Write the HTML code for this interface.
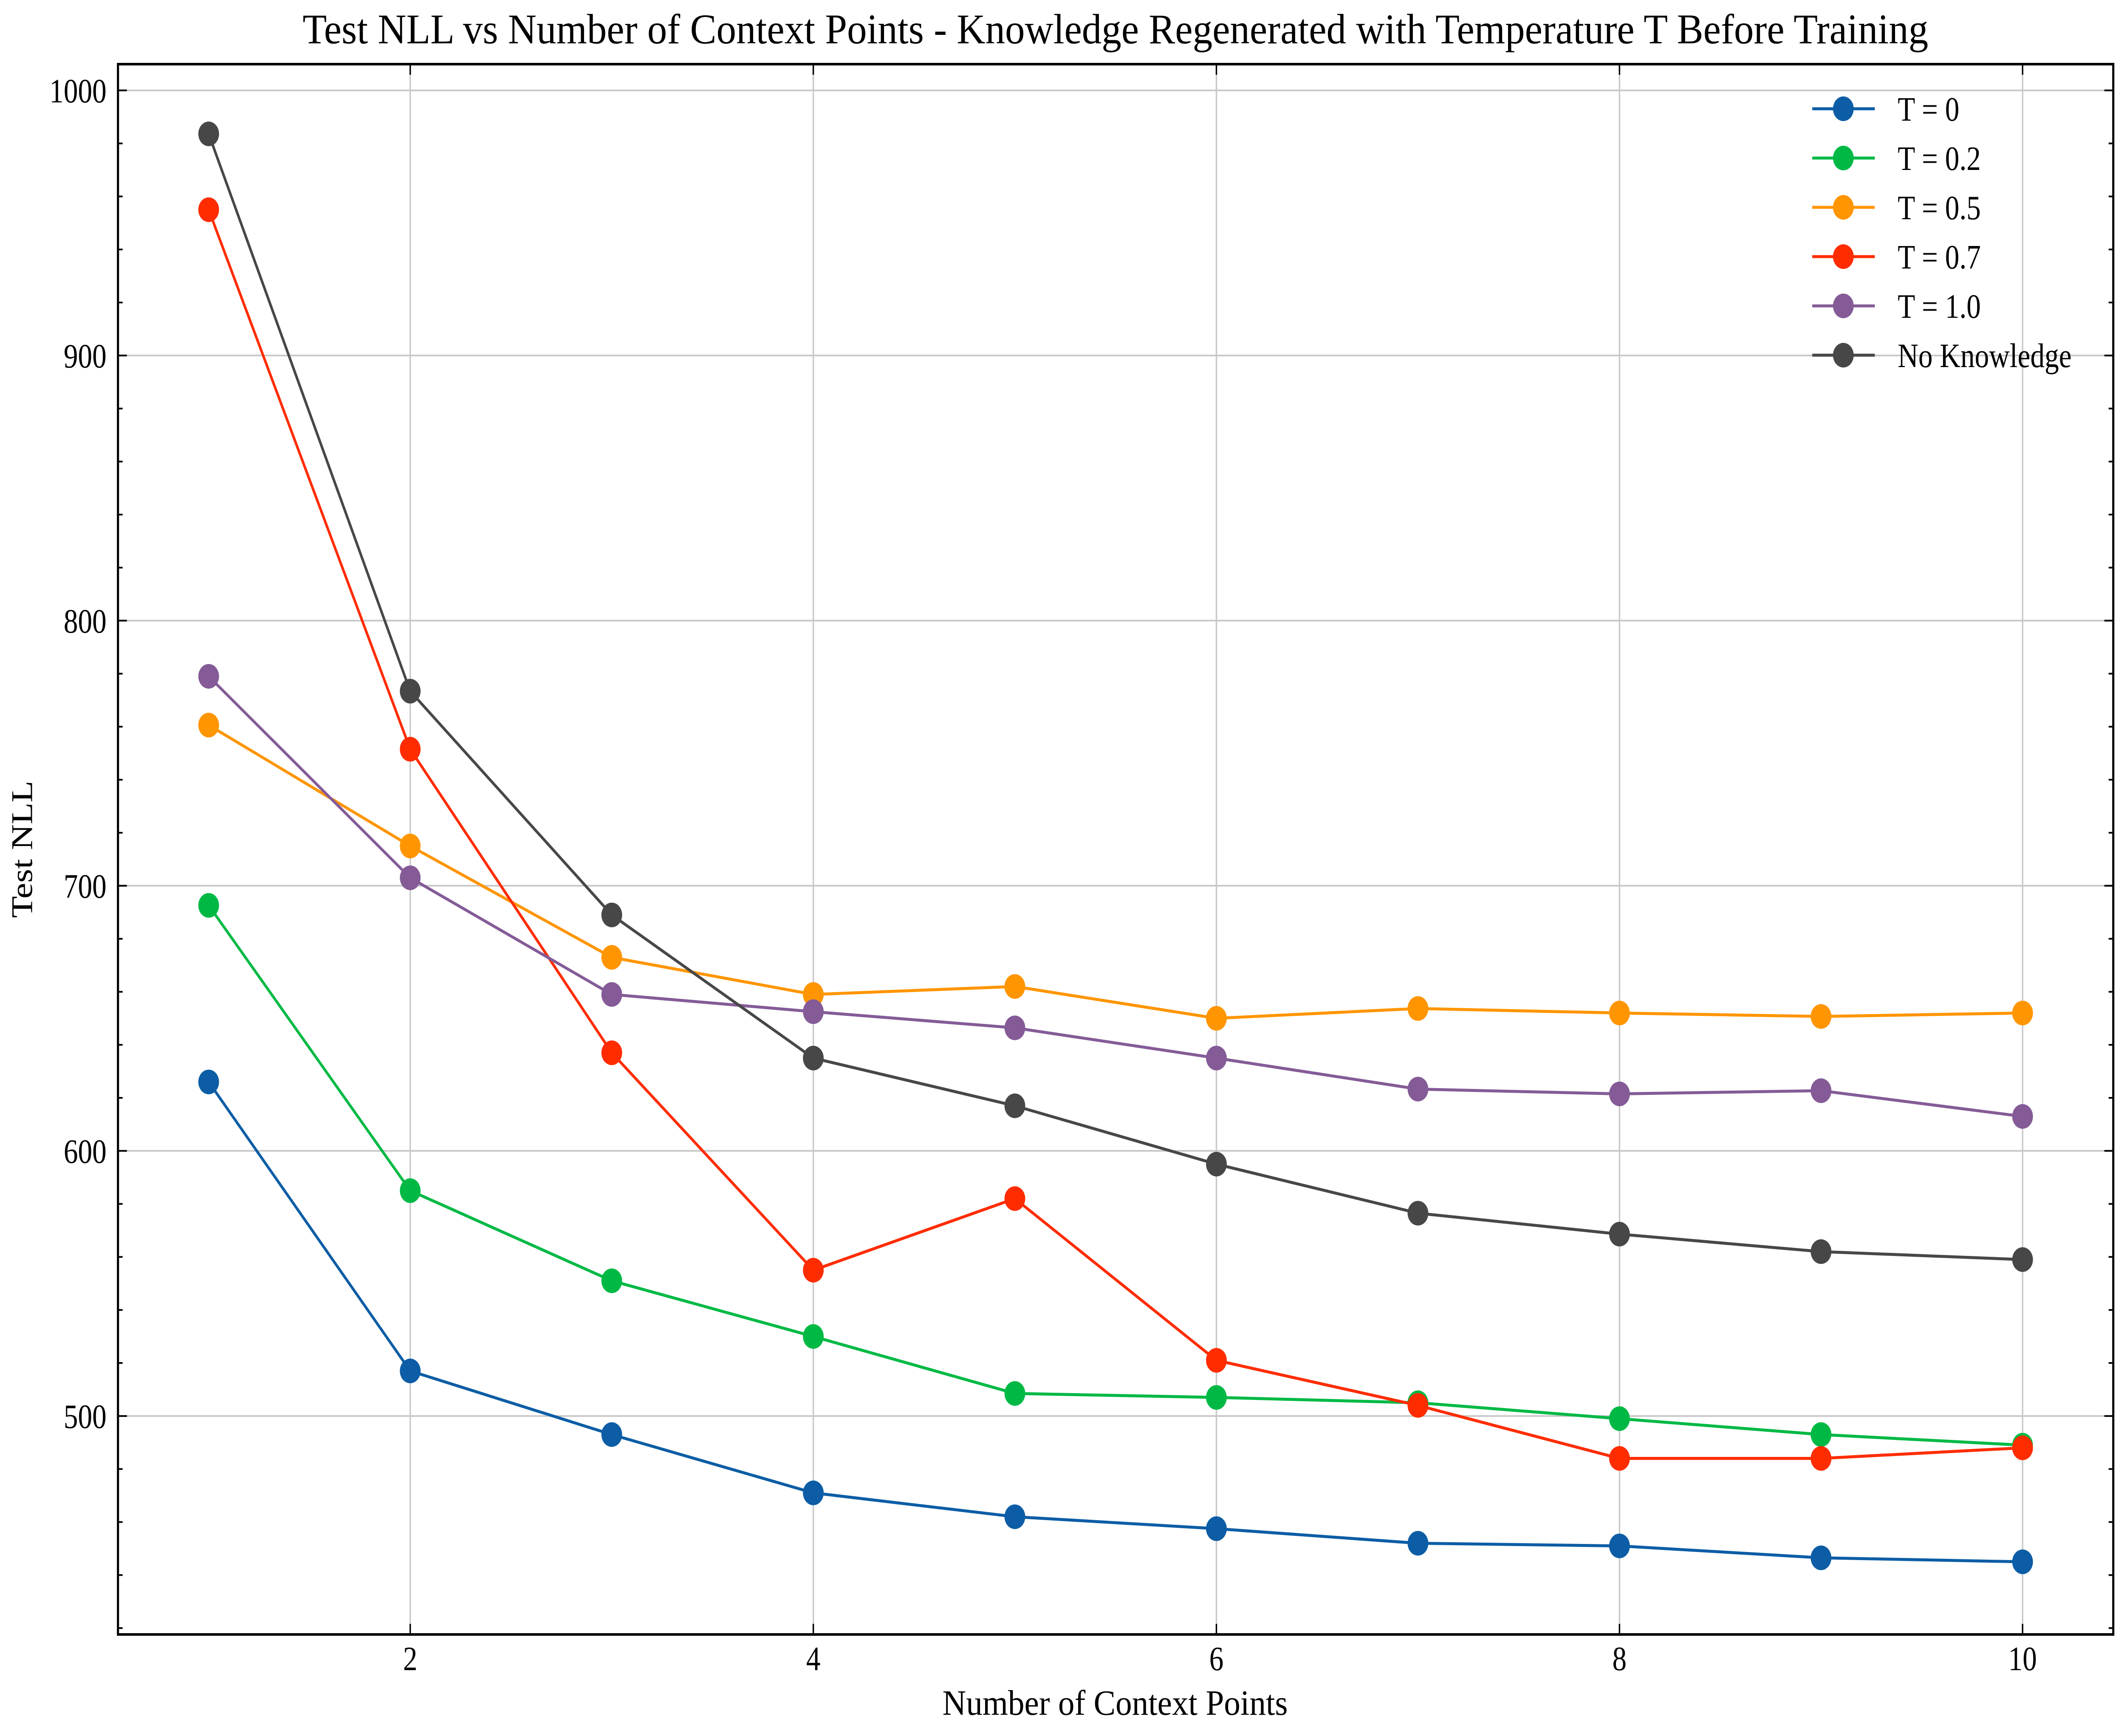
<!DOCTYPE html>
<html><head><meta charset="utf-8"><style>
html,body{margin:0;padding:0;background:#fff;width:100%;height:100%;overflow:hidden}
svg{display:block;position:fixed;left:0;top:0;width:100vw;height:100vh}
text{font-family:"Liberation Serif",serif;fill:#000}
</style></head><body>
<svg id="chart" viewBox="0 0 5941 4086" preserveAspectRatio="none" xmlns="http://www.w3.org/2000/svg">
<rect width="5941" height="4086" fill="#fff"/>
<g id="grid"></g>
<g id="series"></g>
<g id="axes"></g>
<g id="legend"></g>
<text x="3120" y="102" font-size="100" text-anchor="middle" textLength="4547" lengthAdjust="spacingAndGlyphs">Test NLL vs Number of Context Points - Knowledge Regenerated with Temperature T Before Training</text>
<text x="3119" y="4036" font-size="84" text-anchor="middle" textLength="966" lengthAdjust="spacingAndGlyphs">Number of Context Points</text>
<text x="0" y="0" font-size="84" text-anchor="middle" transform="translate(90,1999) rotate(-90)">Test NLL</text>
</svg>
<script>
const categories = [1,2,3,4,5,6,7,8,9,10];
const seriesNames = ["T = 0","T = 0.2","T = 0.5","T = 0.7","T = 1.0","No Knowledge"];
const seriesColors = ["#0C5DA5","#00B945","#FF9500","#FF2C00","#845B97","#474747"];
const t0 = [626,517,493,471,462,457.5,452,451,446.5,445];
const t02 = [692.6,585,551,530,508.5,507,505,499,493,489];
const t05 = [760.6,715,673,659,662,650,653.7,652,650.7,652];
const t07 = [955,751.5,637,555,582,521,504,484,484,488];
const t10 = [779,703,659,652.5,646.4,635,623.3,621.5,622.7,613];
const noKnowledge = [983.6,773.4,689,635,617,595,576.5,568.6,562,559];
const xTicks = [2,4,6,8,10];
const yTicks = [500,600,700,800,900,1000];
const yMinorTicks = [420,440,460,480,520,540,560,580,620,640,660,680,720,740,760,780,820,840,860,880,920,940,960,980];

const L=330,R=5911,T=151,B=3847;
const xMin=0.55,xMax=10.45,yMin=417.6,yMax=1009.9;
const xs=v=>L+(v-xMin)/(xMax-xMin)*(R-L);
const ys=v=>B-(v-yMin)/(yMax-yMin)*(B-T);
const NS="http://www.w3.org/2000/svg";
function mk(tag,parent,attrs){const e=document.createElementNS(NS,tag);for(const k in attrs)e.setAttribute(k,attrs[k]);parent.appendChild(e);return e;}
const grid=document.getElementById('grid'),axes=document.getElementById('axes'),sg=document.getElementById('series'),lg=document.getElementById('legend');

xTicks.forEach(v=>{
  const g=mk('line',grid,{x1:xs(v),x2:xs(v),y1:T,y2:B,stroke:'#c8c8c8','stroke-width':4});
  
  
  const t=mk('line',axes,{x1:xs(v),x2:xs(v),y1:B,y2:B-25,stroke:'#000','stroke-width':4});
  
  
  const t2=mk('line',axes,{x1:xs(v),x2:xs(v),y1:T,y2:T+25,stroke:'#000','stroke-width':4});
  
  
  const lb=mk('text',axes,{x:xs(v),y:3931,'font-size':80,'text-anchor':'middle'});
  lb.textContent=v;
  
  
});
yTicks.forEach(v=>{
  const g=mk('line',grid,{x1:L,x2:R,y1:ys(v),y2:ys(v),stroke:'#c8c8c8','stroke-width':4});
  
  
  const t=mk('line',axes,{x1:L,x2:L+25,y1:ys(v),y2:ys(v),stroke:'#000','stroke-width':4});
  
  
  const t2=mk('line',axes,{x1:R,x2:R-25,y1:ys(v),y2:ys(v),stroke:'#000','stroke-width':4});
  
  
  const lb=mk('text',axes,{x:298,y:ys(v)+28,'font-size':80,'text-anchor':'end'});
  lb.textContent=v;
  
  
});
yMinorTicks.forEach(v=>{
  const t=mk('line',axes,{x1:L,x2:L+13,y1:ys(v),y2:ys(v),stroke:'#000','stroke-width':4});
  
  
  const t2=mk('line',axes,{x1:R,x2:R-13,y1:ys(v),y2:ys(v),stroke:'#000','stroke-width':4});
  
  
});
const frame=mk('rect',axes,{x:L,y:T,width:R-L,height:B-T,fill:'none',stroke:'#000','stroke-width':6});



const allSeries=[t0,t02,t05,t07,t10,noKnowledge];
allSeries.forEach((vals,i)=>{
  const g=mk('g',sg,{});
  
  
  const pts=vals.map((v,j)=>xs(categories[j])+','+ys(v)).join(' ');
  const pl=mk('polyline',g,{points:pts,fill:'none',stroke:seriesColors[i],'stroke-width':7,'stroke-linejoin':'round'});
  
  
  vals.forEach((v,j)=>{
    const c=mk('circle',g,{cx:xs(categories[j]),cy:ys(v),r:29,fill:seriesColors[i]});
    
    
  });
});

seriesNames.forEach((n,i)=>{
  const y=256+i*116;
  const g=mk('g',lg,{});
  
  
  mk('line',g,{x1:5069,x2:5244,y1:y,y2:y,stroke:seriesColors[i],'stroke-width':7});
  mk('circle',g,{cx:5156,cy:y,r:29,fill:seriesColors[i]});
  const t=mk('text',g,{x:5308,y:y+28,'font-size':80});
  t.textContent=n;
});
</script>
</body></html>
